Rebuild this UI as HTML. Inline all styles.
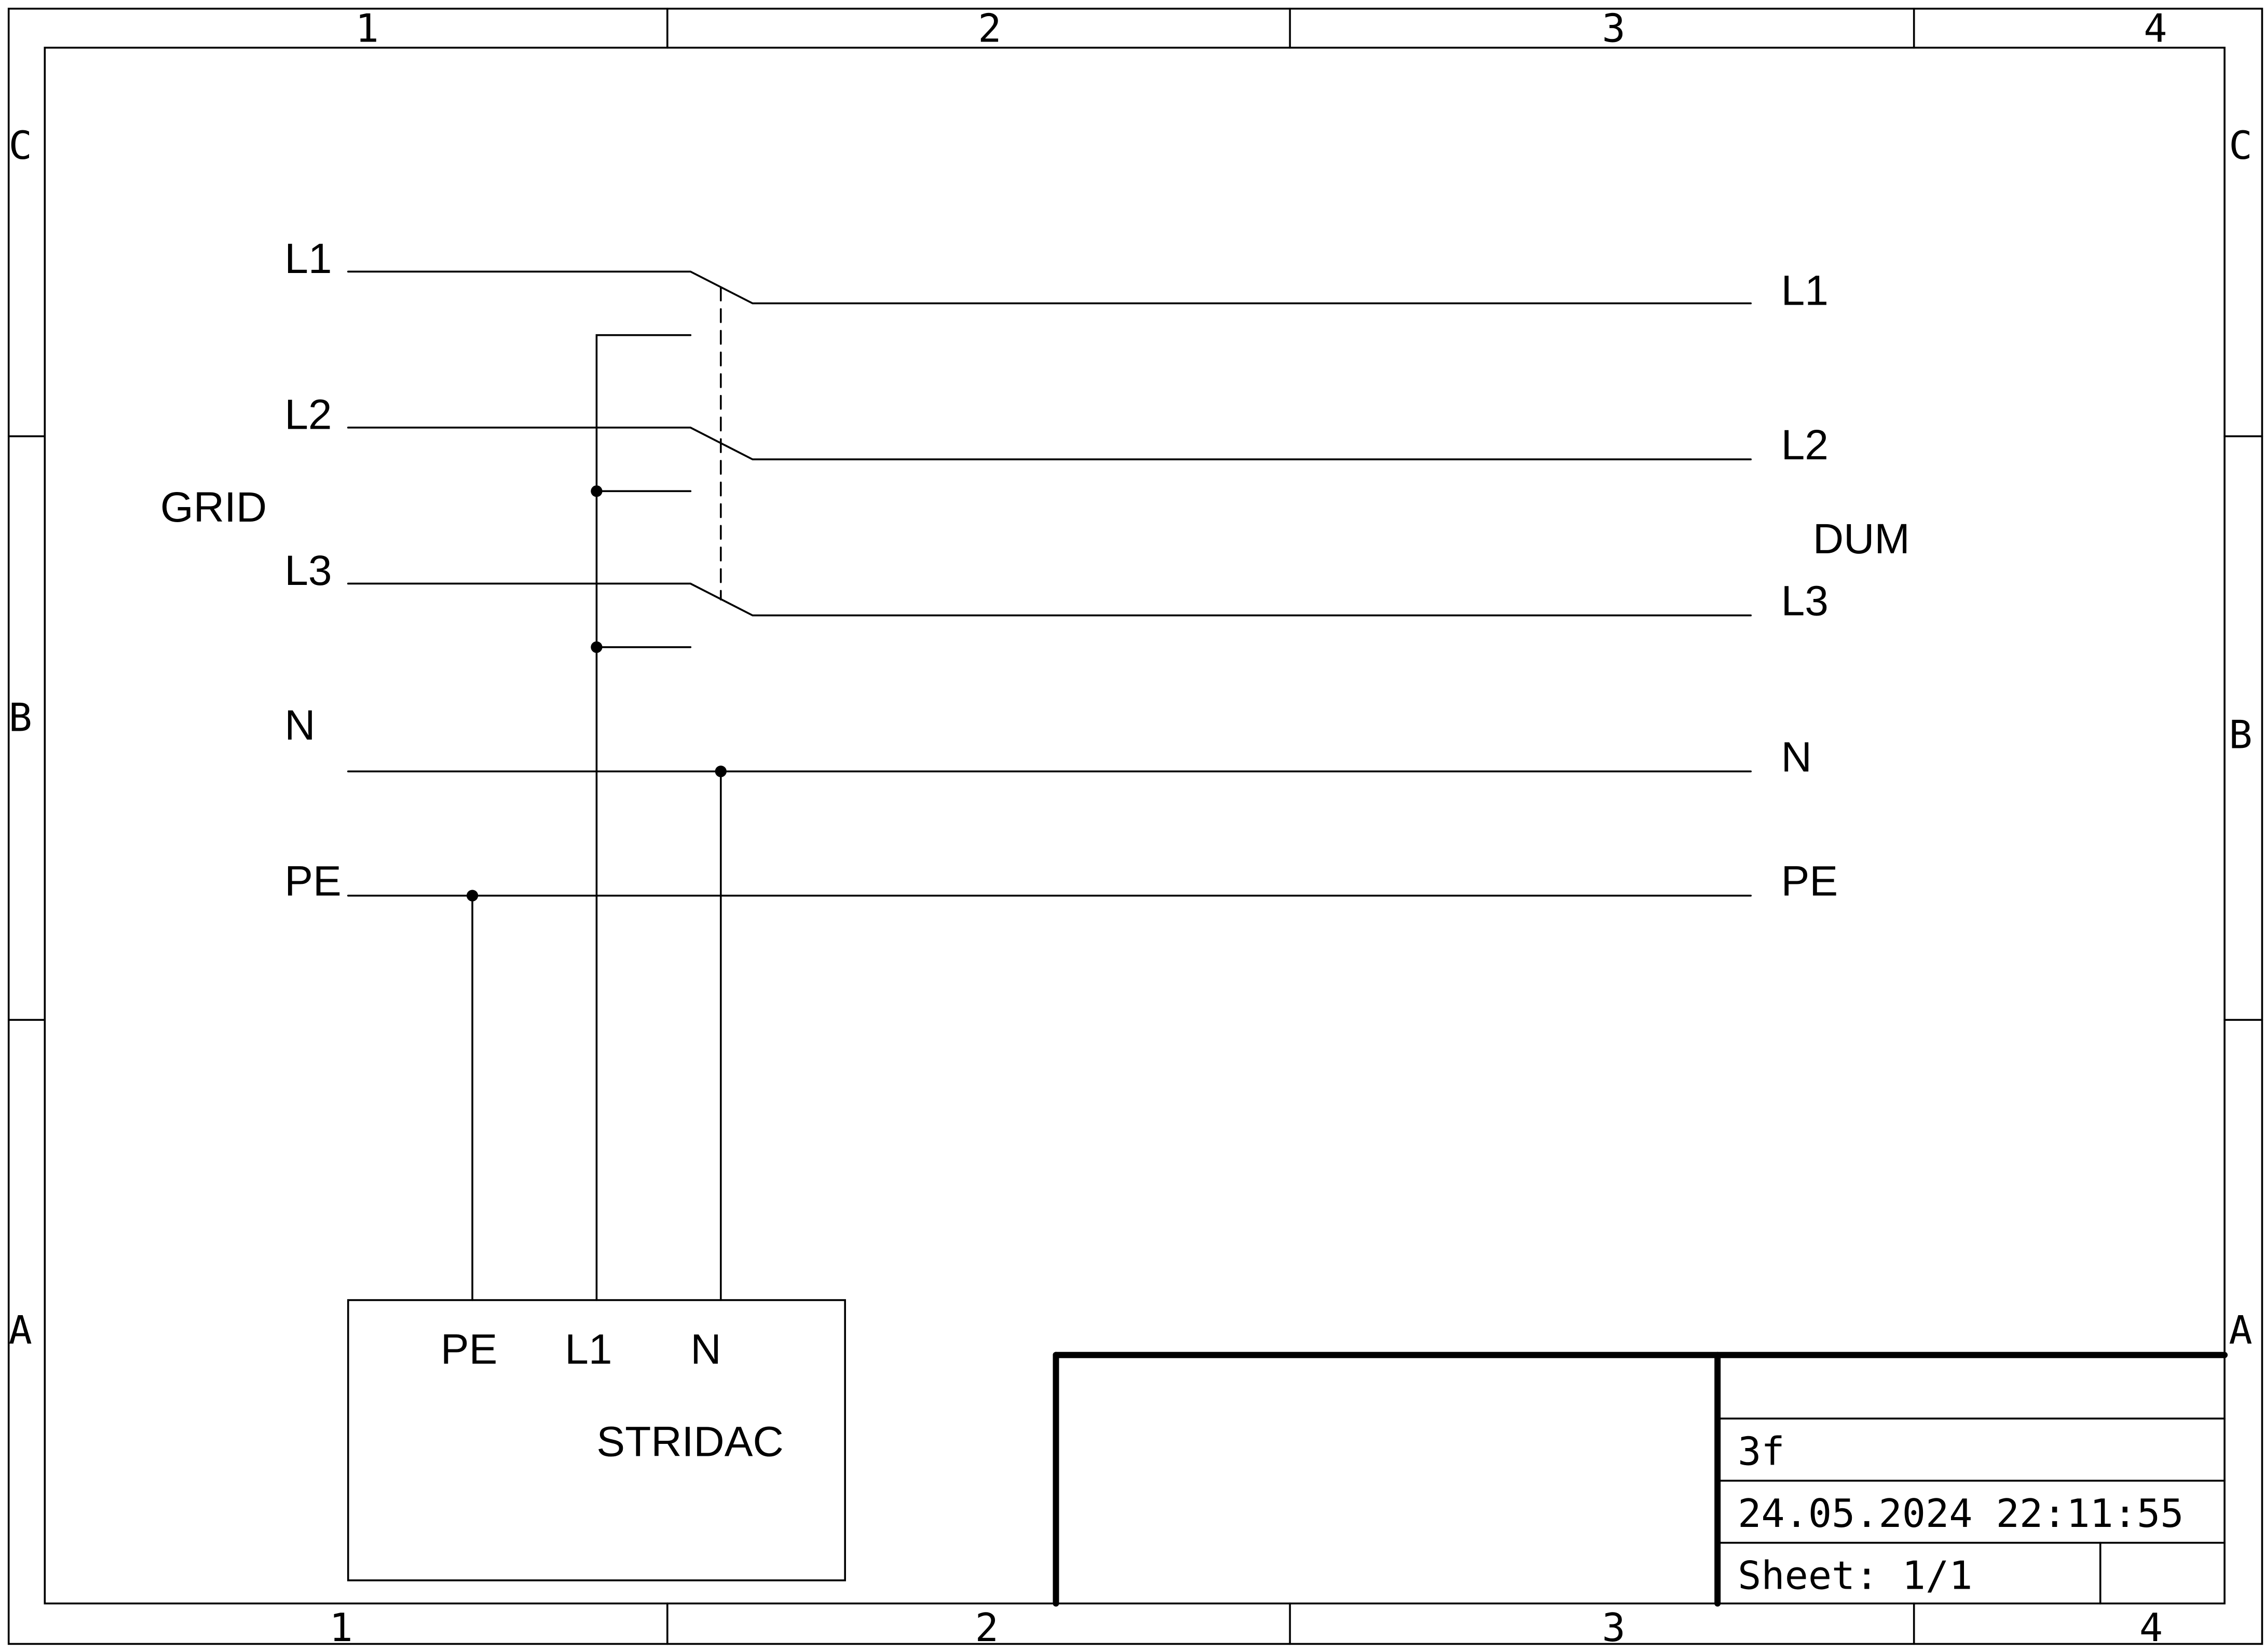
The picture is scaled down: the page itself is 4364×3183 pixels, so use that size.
<!DOCTYPE html>
<html><head><meta charset="utf-8"><style>
html,body{margin:0;padding:0;background:#fff;}
svg{display:block;}
text{font-family:"Liberation Sans",sans-serif;fill:#000;}
.m text{font-family:"DejaVu Sans Mono","Liberation Mono",monospace;}
</style></head><body>
<svg width="4364" height="3183" viewBox="0 0 1568 1143.6" preserveAspectRatio="none" xmlns="http://www.w3.org/2000/svg">
<g fill="none" stroke="#000" stroke-width="1.3" stroke-linecap="round">
<rect x="6" y="6" width="1560" height="1132"/>
<rect x="31" y="33" width="1509" height="1077"/>
<line x1="462" y1="6" x2="462" y2="33"/><line x1="893" y1="6" x2="893" y2="33"/><line x1="1325" y1="6" x2="1325" y2="33"/>
<line x1="462" y1="1110" x2="462" y2="1138"/><line x1="893" y1="1110" x2="893" y2="1138"/><line x1="1325" y1="1110" x2="1325" y2="1138"/>
<line x1="6" y1="302" x2="31" y2="302"/><line x1="6" y1="706" x2="31" y2="706"/>
<line x1="1540" y1="302" x2="1566" y2="302"/><line x1="1540" y1="706" x2="1566" y2="706"/>
<line x1="1189" y1="982" x2="1540" y2="982"/><line x1="1189" y1="1025" x2="1540" y2="1025"/><line x1="1189" y1="1068" x2="1540" y2="1068"/>
<line x1="1454" y1="1068" x2="1454" y2="1110"/>
<g stroke-width="4.3"><line x1="731" y1="938" x2="1540" y2="938"/><line x1="731" y1="938" x2="731" y2="1110"/><line x1="1189" y1="938" x2="1189" y2="1110"/></g>
<polyline points="241,188 478,188 521,210 1212,210"/>
<polyline points="241,296 478,296 521,318 1212,318"/>
<polyline points="241,404 478,404 521,426 1212,426"/>
<line x1="499" y1="199" x2="499" y2="415" stroke-dasharray="9,6"/>
<polyline points="478,232 413,232 413,900"/>
<line x1="413" y1="340" x2="478" y2="340"/><line x1="413" y1="448" x2="478" y2="448"/>
<line x1="241" y1="534" x2="1212" y2="534"/><line x1="499" y1="534" x2="499" y2="900"/>
<line x1="241" y1="620" x2="1212" y2="620"/><line x1="327" y1="620" x2="327" y2="900"/>
<rect x="241" y="900" width="344" height="194"/>
</g>
<g fill="#000"><circle cx="413" cy="340" r="4"/><circle cx="413" cy="448" r="4"/><circle cx="499" cy="534" r="4"/><circle cx="327" cy="620" r="4"/></g>
<g font-size="29.5">
<text x="197" y="189">L1</text><text x="197" y="297">L2</text><text x="197" y="405">L3</text>
<text x="197" y="512">N</text><text x="197" y="620">PE</text>
<text x="111" y="361">GRID</text>
<text x="1233" y="211">L1</text><text x="1233" y="318">L2</text><text x="1233" y="426">L3</text>
<text x="1233" y="534">N</text><text x="1233" y="620">PE</text>
<text x="1255" y="383">DUM</text>
<text x="305" y="944">PE</text><text x="391" y="944">L1</text><text x="478" y="944">N</text>
<text x="413" y="1008">STRIDAC</text>
</g>
<g class="m" font-size="27">
<text x="246" y="29">1</text><text x="677" y="29">2</text><text x="1109" y="29">3</text><text x="1484" y="29">4</text>
<text x="228" y="1136">1</text><text x="675" y="1136">2</text><text x="1109" y="1136">3</text><text x="1481" y="1136">4</text>
<text x="6" y="110">C</text><text x="6" y="506">B</text><text x="6" y="930">A</text>
<text x="1543" y="110">C</text><text x="1543" y="518">B</text><text x="1543" y="930">A</text>
<text x="1203" y="1014">3f</text>
<text x="1203" y="1057">24.05.2024 22:11:55</text>
<text x="1203" y="1100">Sheet: 1/1</text>
</g>
</svg>
</body></html>
